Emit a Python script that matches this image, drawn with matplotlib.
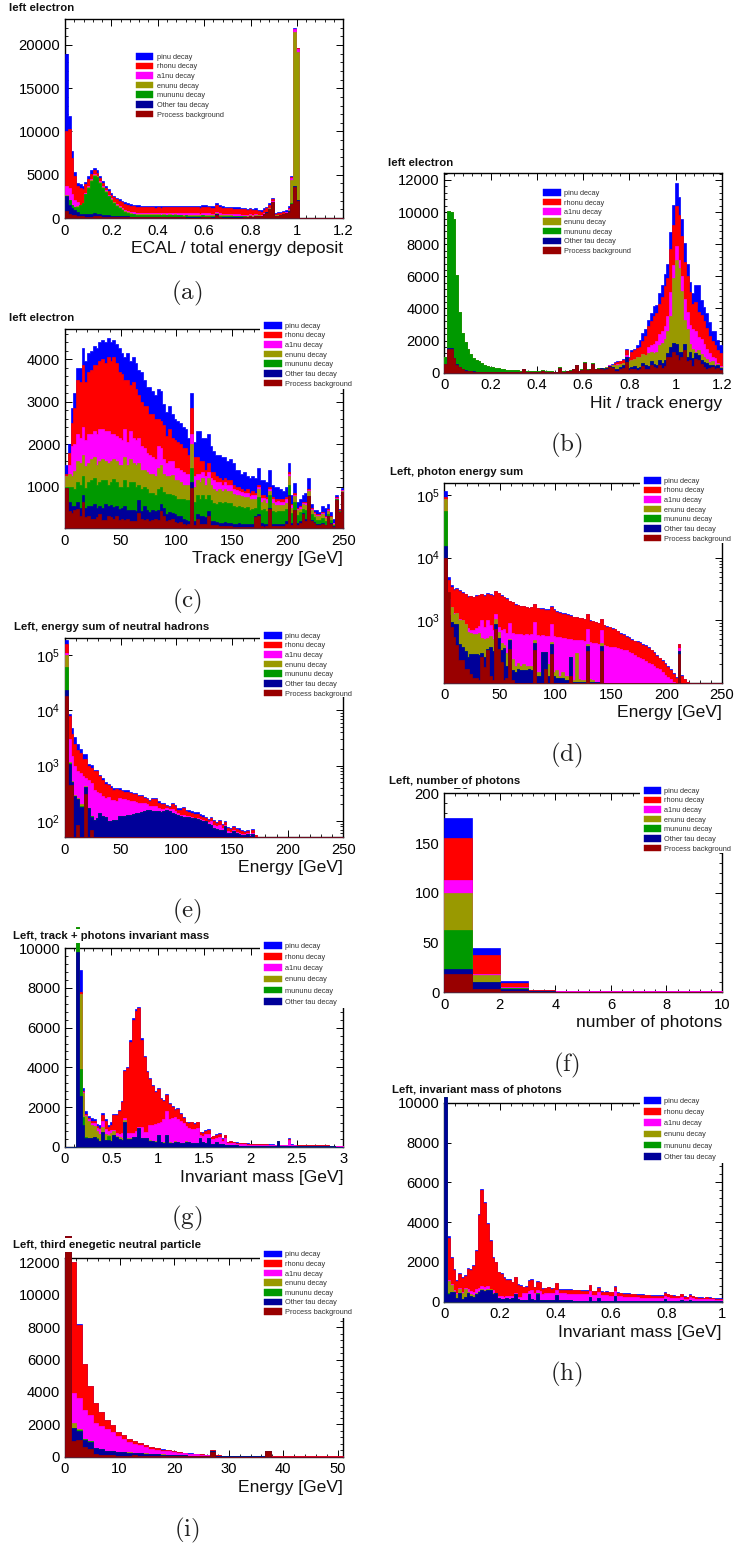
import numpy as np
import matplotlib
matplotlib.use('Agg')
import matplotlib.pyplot as plt
from matplotlib.patches import Patch, Rectangle
from matplotlib.ticker import MultipleLocator, LogLocator, NullFormatter, FormatStrFormatter

plt.rcParams['font.family'] = ['Liberation Sans', 'DejaVu Sans']
plt.rcParams['mathtext.default'] = 'regular'

W, H = 734, 1545

labels = ['pinu decay', 'rhonu decay', 'a1nu decay', 'enunu decay', 'mununu decay', 'Other tau decay', 'Process background']
colors = ['#0000ff', '#ff0000', '#ff00ff', '#999900', '#009900', '#000099', '#990000']

# every list below is the top edge of that layer in the stack, as drawn

# (a)
a_pinu = [19000,11800,7800,5300,4000,3900,3700,4200,4900,5500,5800,5500,4900,4300,3700,3300,2900,2600,2350,2150,2000,1850,1700,1600,1500,1480,1450,1430,1420,1420,
          1400,1400,1380,1400,1380,1420,1400,1420,1400,1430,1420,1420,1400,1430,1420,1400,1420,1400,1380,1480,
          1450,1420,1380,1400,1700,1450,1350,1320,1300,1280,1260,1240,1230,1190,1160,1080,1160,1030,1130,980,
          880,1130,1280,1680,2350,620,640,660,830,870,1350,4800,22000,19700]
a_rhonu = [10000,10300,6900,4900,3700,3500,3300,3900,4500,5100,5500,5200,4600,4000,3500,3100,2700,2400,2150,1950,1800,1650,1520,1420,1330,1300,1270,1250,1240,1240,
           1220,1220,1200,1220,1200,1240,1220,1240,1220,1250,1240,1240,1220,1250,1240,1220,1240,1220,1200,1290,
           1260,1240,1200,1200,1500,1260,1170,1140,1120,1100,1090,1070,1060,1020,1000,930,1000,880,970,830,
           740,970,1120,1500,2200,520,540,560,700,740,1150,4750,21900,19600]
a_a1nu = [3700,3500,2800,2100,1800,1500,1500,2900,3700,4500,5100,4900,4300,3700,3200,2700,2300,1900,1600,1350,1150,950,800,700,640,600,590,580,570,570,
          560,560,550,560,550,570,560,570,550,570,560,560,550,570,560,540,550,540,520,560,
          540,530,510,510,740,530,480,460,450,440,430,420,410,400,400,380,420,370,430,390,
          360,560,740,1150,1950,350,360,400,520,640,1000,4600,21800,19500]
a_enunu = [2700,2100,1550,1300,1350,1550,1750,2800,3600,4400,5000,4800,4200,3600,3100,2600,2200,1800,1500,1250,1050,850,680,580,510,470,450,440,430,430,
           420,420,410,410,400,410,400,410,400,410,400,400,390,400,390,380,390,380,360,400,
           380,370,350,360,600,380,330,310,300,290,280,270,260,260,260,240,300,240,320,300,
           270,500,680,1100,1900,300,310,350,480,600,900,4400,21500,19200]
a_mununu = [2600,2050,1500,1250,1300,1500,1700,2750,3500,4300,4900,4700,4100,3500,3000,2500,2100,1700,1400,1150,950,750,580,480,420,380,360,340,330,330,
            320,320,310,310,300,310,300,310,300,300,290,290,280,290,280,270,280,270,260,290,
            270,260,250,250,500,270,230,220,210,200,190,190,180,180,180,170,240,170,260,240,
            220,460,650,1060,1880,260,280,320,450,570,800,1700,3700,2100]
a_other = [2500,1500,1100,900,700,500,450,500,500,500,550,500,450,400,350,300,280,260,240,220,200,190,180,170,160,160,150,150,150,150,
           140,140,140,140,130,130,130,130,130,130,120,120,120,120,120,120,120,110,110,130,
           120,120,110,110,450,130,110,110,100,100,100,100,100,100,110,110,200,120,230,220,
           210,450,640,1050,1870,250,270,310,430,550,780,1650,3650,2050]
a_bg = [800,500,400,300,250,200,180,170,160,160,280,250,200,150,120,100,90,80,80,70,70,60,60,60,60,60,60,60,60,60,
        60,60,60,60,60,60,60,60,60,60,60,60,60,50,50,50,50,50,50,70,
        60,60,50,50,400,80,50,50,50,50,50,50,50,50,70,80,180,90,210,200,
        190,430,620,1040,1850,240,260,300,420,540,750,1600,3600,2000]

# (b)
b_low = [1000,10050,10000,9600,6100,3800,2500,1900,1450,1150,900,800,700,580,500,430,380,340,300,270,
         240,210,190,180,160,150,140,130,230,110,100,100,90,90,90,150,90,80,80,70,
         70,350,80,80,130,150,250,500,120,200,650,200,250,580,260,300,320,300]
b_pinu = b_low + [380,500,560,650,700,750,850,1500,950,1400,1500,1700,2030,2450,2700,3280,3700,4150,4200,4940,5450,6140,6800,8780,10440,11800,10950,9600,8050,6800,5660,4940,5450,5450,4520,4100,3700,3170,2590,2590,2030,1720]
b_rhonu = b_low + [360,480,500,600,650,700,800,1400,900,1300,1400,1550,1600,2000,2300,2900,3200,3500,3700,4300,4700,5400,5900,7700,9200,10400,9800,8500,6900,6000,5000,4300,4400,3800,3600,3200,2800,2300,2000,1700,1400,1200]
b_a1nu = b_low + [340,450,450,500,520,550,620,1100,750,800,850,950,1000,1150,1100,1600,1700,1800,2000,2400,2600,2900,3500,5000,6700,7900,7000,6000,4600,3800,3000,2700,2600,2200,2100,1800,1500,1200,1000,900,600,400]
b_enunu = b_low + [350,400,450,480,500,520,600,1000,750,800,850,950,1000,1150,1100,1250,1300,1250,1300,1750,1850,2100,2600,3500,5900,7000,6500,5100,3300,2700,1800,1500,1300,1400,1150,950,850,650,700,500,550,350]
b_other_high = [300,420,350,250,200,350,500,1000,300,350,400,300,350,600,450,400,700,550,500,800,600,800,1200,1600,1850,1800,1300,1300,1800,1000,1300,900,1200,1100,800,650,600,450,500,400,500,300]
b_mununu = b_low + b_other_high
b_other = [560,1550,1520,920,520,360,210,140,110,90,80,70,70,60,60,50,50,50,50,50,
           50,50,50,50,50,50,50,50,210,50,50,50,50,50,50,130,50,50,50,50,
           50,320,50,50,110,120,210,470,90,170,620,170,220,560,220,260,280,250] + b_other_high
b_bg = [550,1500,1500,900,500,350,200,130,100,80,70,60,60,50,50,40,40,40,40,40,
        40,40,40,40,40,40,40,40,200,40,40,40,40,40,40,120,40,40,40,40,
        40,300,40,40,100,100,200,450,80,150,600,150,200,550,200,200,220,150,
        200,350,300,100,100,200,300,650,150,200,250,150,200,400,250,250,500,350,300,500,300,400,1000,1000,1300,1100,800,1000,1400,700,800,400,850,800,550,350,250,300,350,200,300,150]

# (c)
c_pinu = [1500,2000,2850,3200,3800,3800,4250,3950,4150,4200,4300,4250,4400,4450,4400,4500,4400,4450,4350,4250,4150,4050,4150,3950,4050,3900,3750,3700,3500,3350,
          3350,3250,3150,3300,3250,2950,2750,2900,2700,2600,2550,2500,2400,2350,2150,3200,2050,2300,2300,2150,2150,2250,1950,1850,1750,1750,1700,1700,1600,1650,
          1550,1400,1400,1300,1350,1250,1200,1250,1200,1450,1150,1150,1100,1390,1050,1000,1000,950,900,1000,1560,800,1080,650,700,800,850,1200,600,450,450,400,550,500,600,400,250,800,480,960]
c_rhonu = [1300,1800,2500,2850,3500,3450,3850,3450,3700,3750,3850,3850,3950,4000,3900,4050,3950,4050,3900,3700,3650,3500,3500,3400,3450,3300,3150,3000,2900,2900,
           2700,2700,2600,2600,2550,2450,2200,2350,2150,2100,2050,2000,1900,1900,1750,2850,1700,1700,1600,1600,1400,1550,1350,1350,1250,1200,1150,1200,1150,1150,
           1050,1000,1000,950,900,950,850,900,850,1050,800,800,750,1000,750,700,700,700,700,750,1350,600,850,500,550,650,650,950,500,400,350,350,400,300,480,300,150,750,450,930]
c_a1nu = [1250,1500,1950,2000,2250,2150,2400,2100,2250,2250,2300,2250,2350,2350,2300,2300,2250,2250,2200,2150,2100,2350,2050,2300,2150,2100,2150,1950,1900,1800,
          1750,1700,1650,1950,1900,1650,1550,1600,1600,1450,1450,1400,1350,1300,1300,2250,1250,1300,1300,1350,1250,1350,1200,1150,1100,1100,1050,1100,1050,1050,
          950,920,900,870,840,850,790,800,800,1000,730,740,700,950,700,650,660,640,650,700,1300,560,800,470,520,620,620,930,480,380,330,330,380,280,460,290,140,740,440,920]
c_enunu = [1250,1300,1250,1380,1600,1550,1750,1480,1550,1650,1700,1500,1600,1650,1600,1550,1600,1650,1600,1500,1500,1700,1500,1650,1550,1500,1550,1400,1400,1350,
           1300,1300,1250,1450,1500,1300,1250,1250,1280,1150,1150,1100,1050,1050,1050,2000,1000,1150,1100,1200,1050,1200,1050,950,900,950,900,950,900,900,
           820,800,800,780,750,760,700,720,720,950,640,680,620,900,620,560,560,560,560,620,1250,500,780,450,480,600,580,900,460,350,320,310,360,260,430,280,130,720,430,900]
c_mununu = [1000,1000,1000,950,1100,1050,1250,980,1100,1150,1200,1050,1100,1150,1150,1050,1100,1180,1100,1000,1000,1150,1000,1100,1100,1000,1050,950,1000,950,
            850,850,800,950,1000,880,820,820,800,780,720,700,700,680,680,1450,650,800,700,800,720,800,680,620,600,640,620,650,620,620,
            540,520,540,520,500,520,460,480,500,750,460,480,420,800,420,400,420,420,420,480,1050,380,650,340,400,480,460,750,360,280,220,220,270,190,350,210,90,700,420,880]
c_other = [980,650,550,550,650,500,800,500,550,550,600,500,550,500,600,550,580,520,550,480,500,550,450,450,450,420,680,420,550,450,
           400,450,420,450,600,500,350,400,380,350,300,300,250,220,200,1100,200,350,300,300,280,420,200,190,180,150,150,180,150,140,
           130,130,140,130,120,120,120,120,300,350,140,130,130,500,130,130,130,130,130,200,800,150,450,150,200,380,250,780,220,170,120,120,150,110,320,150,70,690,410,880]
c_bg = [980,420,380,450,470,300,650,280,300,250,250,280,350,220,220,320,280,240,300,220,250,220,230,200,200,200,380,250,220,250,
        200,220,230,220,420,300,200,220,230,180,150,180,130,110,120,980,100,250,130,130,120,300,100,100,100,80,80,80,70,70,
        60,60,60,60,60,60,60,60,280,300,70,60,70,480,80,70,70,70,70,130,780,100,450,100,150,350,200,770,200,150,100,100,130,100,300,130,60,680,400,870]

# (d)
d_pinu = [116000,4940,3630,3200,3330,3020,2840,2670,2420,2450,2360,2510,2550,2650,2500,2700,2600,2500,2950,2750,2500,2400,2250,2050,1950,1800,1750,1700,1700,1650,
          1600,1650,1850,1600,1550,1550,1500,1500,1680,1500,1400,1350,1300,1300,1250,1200,1150,1150,1100,1100,1050,1250,1000,980,950,900,1060,850,800,780,
          750,730,680,620,600,560,540,500,470,460,450,420,400,370,340,310,280,255,230,205,185,165,145,125,424,132,117,105]
d_rhonu = [92000,4400,3400,3050,3200,2950,2780,2620,2380,2410,2330,2480,2520,2620,2470,2670,2570,2470,2920,2720,2470,2370,2220,2030,1930,1780,1730,1680,1680,1630,
           1580,1630,1830,1580,1530,1530,1480,1480,1660,1480,1380,1330,1280,1280,1230,1180,1130,1130,1090,1090,1040,1240,990,970,940,890,1050,840,790,770,
           740,720,670,610,590,550,530,490,460,450,440,410,390,360,330,300,270,250,225,200,180,160,140,120,424,130,115,102]
d_a1nu = [88000,2200,1650,1300,1300,1050,1000,880,750,700,700,750,800,1020,780,1020,850,700,1250,780,700,720,620,920,620,600,600,600,590,600,
          590,600,940,580,570,575,570,570,885,570,550,550,530,530,510,500,490,490,480,480,470,736,450,440,430,420,690,400,390,380,
          380,370,360,350,340,330,310,300,280,260,250,240,225,210,200,190,175,165,150,135,125,115,105,100,360,100]
d_enunu = [85000,1800,1630,1280,1300,1000,1000,880,650,620,610,600,620,520,500,520,560,500,1060,640,430,400,300,500,240,190,210,190,200,190,
           190,190,480,150,150,140,310,200,450,150,160,130,150,130,130,260,110,300,115,110,110,420,115,110,105,105,430,100,0,0,
           0,0,0,0,0,0,0,0,0,0,0,0,0,0,0,0,0,0,0,0,0,0,0,0,310]
d_other_tail = [1200,940,880,880,420,380,320,260,290,290,290,280,300,260,350,370,320,880,530,340,360,190,480,160,150,170,160,160,160,
                170,160,440,130,130,310,310,130,425,130,120,120,120,110,110,260,105,105,105,105,105,390,105,105,105,105,390,100,0,0,
                0,0,0,0,0,0,0,0,0,0,0,0,0,0,0,0,0,0,0,0,0,0,0,0,320]
d_mununu = [56000] + d_other_tail
d_other = [15300] + d_other_tail
d_bg = [10000,2840,780,540,400,230,230,170,170,140,120,120,110,260,180,330,130,110,735,350,220,110,120,350,110,100,100,100,100,100,
        100,100,330,100,100,100,170,100,290,100,100,100,100,100,100,130,100,100,100,100,100,320,100,100,100,100,320,0,0,0,
        0,0,0,0,0,0,0,0,0,0,0,0,0,0,0,0,0,0,0,0,0,0,0,0,290]

# (e)
e_pinu = [190000,8500,4700,3300,2500,2040,1650,1650,1090,1020,830,830,680,590,510,475,420,390,400,390,370,360,360,330,320,320,300,300,275,256,
          240,256,256,225,210,215,195,190,215,195,170,170,180,160,155,150,145,145,135,130,120,110,120,105,97,105,88,100,79,76,82,76,75,68,65,70,58,73,56]
e_rhonu = [160000,7800,3700,2500,1900,1700,1300,1300,1000,900,800,800,640,550,470,440,395,365,380,370,350,340,340,315,305,305,285,285,260,245,
           225,245,245,215,200,205,185,180,205,185,160,160,170,150,145,140,135,135,125,120,115,105,115,100,92,100,85,95,75,72,78,72,70,65,62,66,56,70,55]
e_a1nu = [110000,3000,1500,1000,800,750,650,600,560,480,360,330,320,280,260,270,240,240,230,260,250,250,240,225,225,220,210,215,210,200,
          190,190,185,170,165,165,170,165,165,150,140,130,130,125,125,120,115,115,110,105,100,95,100,85,80,85,75,85,65,62,68,62,60,58,58,60,55,60,52]
e_other_tail = [105,115,140,125,120,100,100,105,105,125,125,125,130,130,135,140,140,145,150,155,
                160,150,150,150,145,150,160,150,140,135,130,125,120,120,118,115,115,110,105,100,98,90,85,75,72,70,68,80,60,60,65,60,58,55,55,57,54,58,52]
e_enunu = [99000,1150,520,290,260,200,200,420,175,125] + e_other_tail
e_mununu = [61000,1100,510,285,250,190,190,415,172,122] + e_other_tail
e_other = [23000,1090,500,280,245,180,180,410,170,120] + e_other_tail
e_bg = [18000,450,450,0,85,0,0,305,0,70]

# (f)
f_pinu = [175, 45, 11, 2.5, 1, 1, 1, 1, 1, 1]
f_rhonu = [155, 37, 9, 2.2, 1, 1, 1, 1, 1, 1]
f_a1nu = [113, 18, 5, 1.5, 0.9, 0.9, 0.9, 0.9, 0.9, 0.9]
f_enunu = [100, 17, 4.5, 1.2, 0.8, 0.8, 0.8, 0.8, 0.8, 0.8]
f_mununu = [63, 10, 4, 1.1, 0.7, 0.7, 0.7, 0.7, 0.7, 0.7]
f_other = [23, 10, 3.5, 1, 0.6, 0.6, 0.6, 0.6, 0.6, 0.6]
f_bg = [18, 3, 1.5, 0.5, 0.4, 0.4, 0.4, 0.4, 0.4, 0.4]

# (g)
g_pinu = [0,0,0,0,11090,8930,2970,1800,1550,1430,1420,1150,1100,1690,1400,1100,1250,1650,1650,1850,2300,3850,4000,5400,6500,6950,7050,5500,4570,3800,
          3470,3130,2830,2970,2450,2340,2680,2200,2030,1900,1950,1700,1500,1270,1220,1270,1180,1270,760,730,850,900,510,560,630,680,420,600,250,290,
          250,220,200,190,180,170,160,160,150,140,140,130,130,120,120,110,110,110,110,110,420,120,110,100,100,100,90,90,90,90,100,80,80,70,70,60,60,50,50,40]
g_rhonu = [0,0,0,0,11090,7800,2800,1650,1450,1300,1300,1050,950,1600,1300,1000,1100,1600,1600,1800,2250,3800,3950,5300,6400,6850,7000,5400,4500,3750,
           3420,3080,2780,2920,2400,2290,2630,2150,1980,1850,1900,1650,1450,1220,1170,1220,1130,1220,720,700,810,860,480,530,600,650,400,570,240,270,
           235,205,190,180,170,160,150,150,140,130,130,120,120,110,110,105,105,105,105,100,400,110,100,95,95,95,85,85,85,85,95,75,75,65,65,55,55,45,45,35]
g_a1nu = [0,0,0,0,11090,7700,2750,1600,1400,1200,1200,950,900,1300,900,800,850,850,700,650,700,1450,700,700,700,800,1000,1000,760,760,
          1100,1100,1150,1190,1270,1400,1780,1400,1450,1500,1400,1300,1200,1050,950,900,900,950,600,550,620,650,370,400,450,480,290,430,170,190,
          170,150,130,120,120,110,110,100,100,90,90,85,85,80,80,75,75,70,70,70,360,70,70,60,60,60,55,55,50,50,55,45,45,40,40,35,30,30,25,20]
g_other_tail = [400,400,480,480,930,430,420,420,300,280,260,590,220,200,590,200,170,260,220,200,180,260,220,180,200,200,440,220,180,450,130,120,230,150,120,100,
                90,80,70,70,60,60,60,50,50,50,50,40,40,40,40,40,40,40,300,40,40,30,30,30,30,30,30,30,30,30,30,30,30,20,20,20,20,20,20]
g_enunu = [0,0,0,0,11090,7700,2700,1550,1300,1100,1050,800,650,1000,650,600,700,800,550,500,450,1350,420,420,500,500,950,450,450,450,
           350,300,280,600,250,220,600,220,200,280,240,210,190,270,230,190,210,210,450,230,190,460,140,130,240,160,130,110] + g_other_tail[36:]
g_mununu = [0,0,0,0,11090,3900,1500,500,450,450,500,450,300,760,350,550,300,600,500,400,350,1250] + g_other_tail
g_other = [0,0,0,0,9800,2540,1100,430,430,430,480,400,280,760,350,330,300,600,480,380,330,1250] + g_other_tail

# (h)
h_pinu = [10300,3280,2270,1650,1090,1430,1230,1340,1710,1650,1850,2600,4400,5660,5000,3950,3110,2270,2020,1510,1430,1230,1140,1140,1010,1260,890,840,760,790,
          1090,1130,760,1040,1010,670,700,760,670,700,960,640,640,630,630,620,610,600,600,590,580,590,850,550,560,730,540,510,520,510,
          500,790,480,450,440,440,420,410,400,380,370,370,360,350,340,330,330,340,320,470,400,350,330,310,300,400,280,260,380,310,260,230,220,210,250,220,200,190,190,170]
h_rhonu = [10300,3180,2200,1600,1050,1380,1190,1300,1660,1600,1800,2550,4350,5600,4950,3900,3060,2220,1980,1470,1390,1190,1100,1100,970,1220,860,810,730,760,
           1060,1100,730,1010,980,640,670,730,640,670,930,610,610,600,600,590,580,570,570,560,550,560,820,520,530,700,510,480,490,480,
           470,760,450,420,410,410,390,380,370,350,340,340,330,320,310,300,300,310,290,440,370,320,300,280,270,370,250,230,350,280,230,200,190,180,220,190,170,160,160,140]
h_a1nu = [10300,1100,900,600,450,700,500,700,650,550,500,650,700,800,750,800,600,600,300,280,270,260,300,270,280,450,260,250,420,450,
          550,600,450,600,550,400,420,450,420,430,600,430,430,420,410,400,400,390,380,370,370,370,560,360,360,500,340,320,320,310,
          300,520,290,270,260,250,240,240,230,220,210,210,200,190,190,180,180,190,170,280,220,190,180,170,170,250,160,150,230,180,150,130,130,120,150,130,120,110,110,100]
h_enunu = [10300,1050,850,550,400,650,450,650,500,400,350,450,550,650,600,650,620,420,460,210,160,140,210,160,190,410,160,110,100,100,
           410,160,100,420,100,90,80,80,80,80,350,70,70,70,70,100,60,60,60,60,60,60,250,60,60,200,60,50,50,50,
           50,300,50,50,50,50,50,50,50,50,40,40,40,40,40,40,40,50,40,120,60,50,50,40,40,100,40,30,80,40,30,30,30,30,40,30,30,20,20,20]
h_mununu = [10300,420,510,510,210,460,160,260,460,310,260,410,510,610,560,610,610,410,455,205,155,135,205,155,185,405,155,105,100,100,
            405,155,100,415,100,90,80,80,80,80,345,70,70,70,70,100,60,60,60,60,60,60,250,60,60,200,60,50,50,50,
            50,300,50,50,50,50,50,50,50,50,40,40,40,40,40,40,40,50,40,120,60,50,50,40,40,100,40,30,80,40,30,30,30,30,40,30,30,20,20,20]
h_other = [10300,400,500,500,200,450,150,250,450,300,250,400,500,600,550,600,600,400,450,200,150,130,200,150,180,400,150,100,90,90,
           400,150,90,400,90,80,70,70,70,70,340,70,70,70,70,90,60,60,60,60,60,60,250,60,60,200,60,50,50,50,
           50,300,50,50,50,50,50,50,50,50,40,40,40,40,40,40,40,50,40,120,60,50,50,40,40,100,40,30,80,40,30,30,30,30,40,30,30,20,20,20]

# (i)
i_pinu = [13600,12050,8200,5750,4350,3300,2750,2250,1950,1550,1350,1100,1000,850,750,600,520,450,400,370,300,250,200,190,150,130,400,80,70,70,70,60,60,60,60,60,350,40,40,40,40,40,40,40,40,40,40,40,40,40]
i_rhonu = [13600,12000,8150,5750,4350,3300,2750,2250,1950,1550,1350,1100,980,850,740,590,510,440,390,360,290,240,190,180,145,125,390,75,65,65,65,55,55,55,55,55,350,40,40,40,40,40,40,40,40,40,40,40,40,40]
i_a1nu = [13600,3950,3650,2900,2550,2100,1900,1700,1500,1250,1100,900,800,700,620,500,430,380,340,320,250,200,170,160,135,120,380,70,60,60,60,50,50,50,50,50,350]
i_enunu = [13600,2050,1700,1100,950,550,480,350,340,300,280,260,240,220,200,180,160,140,120,110,90,80,70,65,60,55,350,30,30,30,30,20,20,20,20,20,340]
i_mununu = [13600,1800,1650,1080,950,530,470,340,330,290,270,250,230,210,190,170,150,130,110,100,85,75,65,60,55,50,350,30,30,30,30,20,20,20,20,20,340]
i_other = [13600,1750,1600,1050,900,520,460,330,330,290,270,250,230,210,190,170,150,130,110,100,85,75,65,60,55,50,350,30,30,30,30,20,20,20,20,20,340]
i_bg = [13600,950,1050,600,500,180,130,80,80,60,50,40,120,40,30,30,30,20,20,20,20,20,20,20,20,20,320,10,10,10,10,10,10,10,10,10,330]


fig = plt.figure(figsize=(W / 100, H / 100), dpi=100)
fig.patch.set_facecolor('white')


def fx(x):
    return x / W


def fy(y):
    return 1 - y / H


def panel(box, xlim, ylim, nbins, layers, xmajor, xminor, ymajor, yminor, xlabel, xlabel_y,
          title, title_pos, caption, caption_pos, leg_xy, leg_gap, leg_box=None, log=False):
    l, t, r, b = box
    ax = fig.add_axes([fx(l), fy(b), fx(r - l), fy(t) - fy(b)])
    edges = np.linspace(xlim[0], xlim[1], nbins + 1)
    for vals, c in zip(layers, colors):
        vals = list(vals)[:nbins]
        vals = vals + [0] * (nbins - len(vals))
        vals = np.maximum(np.array(vals, dtype=float), ylim[0])
        ax.stairs(vals, edges, baseline=ylim[0], fill=True, facecolor=c, edgecolor=c,
                  linewidth=0.5, clip_on=False, zorder=3)
    ax.set_xlim(xlim)
    ax.set_ylim(ylim)
    if log:
        ax.set_yscale('log')
        ax.set_ylim(ylim)
        ax.yaxis.set_major_locator(LogLocator(base=10, numticks=10))
        ax.yaxis.set_minor_locator(LogLocator(base=10, subs=np.arange(2, 10), numticks=10))
        ax.yaxis.set_minor_formatter(NullFormatter())
    else:
        ax.yaxis.set_major_locator(MultipleLocator(ymajor))
        ax.yaxis.set_minor_locator(MultipleLocator(yminor))
        ax.yaxis.set_major_formatter(FormatStrFormatter('%g'))
    ax.xaxis.set_major_locator(MultipleLocator(xmajor))
    ax.xaxis.set_minor_locator(MultipleLocator(xminor))
    ax.xaxis.set_major_formatter(FormatStrFormatter('%g'))
    ax.tick_params(which='major', direction='in', top=True, right=True, length=5, width=0.7, labelsize=10.6, pad=3.5)
    ax.tick_params(which='minor', direction='in', top=True, right=True, length=2.5, width=0.6)
    ax.tick_params(axis='x', which='major', pad=4)
    for s in ax.spines.values():
        s.set_linewidth(1.0)
    ax.patch.set_alpha(0)

    fig.text(fx(r), fy(xlabel_y), xlabel, ha='right', va='center', fontsize=12.6, color='#111111')
    fig.text(fx(title_pos[0]), fy(title_pos[1]), title, ha='left', va='center', fontsize=8.2, fontweight='bold',
             color='#111111', zorder=10, bbox=dict(facecolor='white', edgecolor='none', pad=1.5))
    fig.text(fx(caption_pos[0]), fy(caption_pos[1]), caption, ha='center', va='center', fontsize=18,
             math_fontfamily='cm', color='#222222')

    if leg_box is not None:
        ax.add_patch(Rectangle((fx(leg_box[0]), fy(leg_box[3])), fx(leg_box[2] - leg_box[0]), fy(leg_box[1]) - fy(leg_box[3]),
                               transform=fig.transFigure, facecolor='white', edgecolor='none', clip_on=False, zorder=4.5))
    handles = [Patch(facecolor=colors[i], edgecolor=colors[i], linewidth=0.3) for i in range(len(layers))]
    leg = ax.legend(handles, labels[:len(layers)], loc='upper left', bbox_to_anchor=(fx(leg_xy[0]), fy(leg_xy[1])),
                    bbox_transform=fig.transFigure, frameon=False, fontsize=5.3, borderpad=0, borderaxespad=0,
                    handlelength=2.35, handleheight=1.0, handletextpad=0.45, labelspacing=(leg_gap - 7.7) / 7.36)
    leg.set_zorder(5)
    for txt in leg.get_texts():
        txt.set_color('#333333')
    return ax


panel((65, 19, 343.3, 218), (0, 1.2), (0, 23000), 100,
      [a_pinu, a_rhonu, a_a1nu, a_enunu, a_mununu, a_other, a_bg], 0.2, 0.04, 5000, 1000,
      'ECAL / total energy deposit', 248.3, 'left electron', (9.3, 8), r'$\mathrm{(a)}$', (187, 293.5),
      (136, 53), 9.5)

panel((444.3, 173.3, 722, 372.7), (0, 1.2), (0, 12417), 100,
      [b_pinu, b_rhonu, b_a1nu, b_enunu, b_mununu, b_other, b_bg], 0.2, 0.04, 2000, 400,
      'Hit / track energy', 403.3, 'left electron', (388, 163), r'$\mathrm{(b)}$', (566.3, 445),
      (543.3, 189), 9.6)

panel((65, 329, 343.3, 528.3), (0, 250), (22, 4706), 100,
      [c_pinu, c_rhonu, c_a1nu, c_enunu, c_mununu, c_other, c_bg], 50, 10, 1000, 200,
      'Track energy [GeV]', 558.3, 'left electron', (9.3, 318), r'$\mathrm{(c)}$', (187, 601.7),
      (264.3, 322), 9.5, leg_box=(260, 320, 351, 389))

panel((444.3, 483.3, 722, 682.7), (0, 250), (101, 154000), 100,
      [d_pinu, d_rhonu, d_a1nu, d_enunu, d_mununu, d_other, d_bg], 50, 10, 0, 0,
      'Energy [GeV]', 712.3, 'Left, photon energy sum', (389.7, 472.3), r'$\mathrm{(d)}$', (566.3, 755),
      (643.7, 477), 9.5, leg_box=(640, 475, 732, 542.7), log=True)

panel((65, 638.3, 343.3, 837.3), (0, 250), (50.7, 200000), 100,
      [e_pinu, e_rhonu, e_a1nu, e_enunu, e_mununu, e_other, e_bg], 50, 10, 0, 0,
      'Energy [GeV]', 867.7, 'Left, energy sum of neutral hadrons', (14, 626.7), r'$\mathrm{(e)}$', (187, 911.7),
      (264.3, 632), 9.5, leg_box=(260, 630, 351, 697), log=True)

ax_f = panel((444.3, 793.3, 722, 992.3), (0, 10), (0, 200), 10,
             [f_pinu, f_rhonu, f_a1nu, f_enunu, f_mununu, f_other, f_bg], 2, 0.4, 50, 10,
             'number of photons', 1022.3, 'Left, number of photons', (388.7, 781), r'$\mathrm{(f)}$', (566.3, 1065),
             (643.7, 787), 9.5, leg_box=(640, 785, 732, 853))
ax_f.text(0, 1.0, r'$\times10^{3}$', transform=ax_f.transAxes, ha='left', va='bottom', fontsize=10.6, color='#111111')

panel((65, 948.3, 343.3, 1146.7), (0, 3), (0, 10000), 100,
      [g_pinu, g_rhonu, g_a1nu, g_enunu, g_mununu, g_other], 0.5, 0.1, 2000, 400,
      'Invariant mass [GeV]', 1177.3, 'Left, track + photons invariant mass', (13.3, 936), r'$\mathrm{(g)}$', (187, 1218),
      (264.3, 942), 11.1, leg_box=(260, 940, 351, 1008))

panel((444.3, 1102.7, 722, 1301.7), (0, 1), (0, 10000), 100,
      [h_pinu, h_rhonu, h_a1nu, h_enunu, h_mununu, h_other], 0.2, 0.04, 2000, 400,
      'Invariant mass [GeV]', 1332.3, 'Left, invariant mass of photons', (392, 1090.3), r'$\mathrm{(h)}$', (566.3, 1374),
      (643.7, 1097), 11.1, leg_box=(640, 1095, 732, 1163))

panel((65, 1257.7, 343.3, 1456.7), (0, 51), (0, 12285), 50,
      [i_pinu, i_rhonu, i_a1nu, i_enunu, i_mununu, i_other, i_bg], 10, 2, 2000, 400,
      'Energy [GeV]', 1487.3, 'Left, third enegetic neutral particle', (12.7, 1245.3), r'$\mathrm{(i)}$', (187, 1530),
      (264.3, 1250.5), 9.5, leg_box=(260, 1249, 351, 1318))

fig.savefig('out.png', dpi=100)
